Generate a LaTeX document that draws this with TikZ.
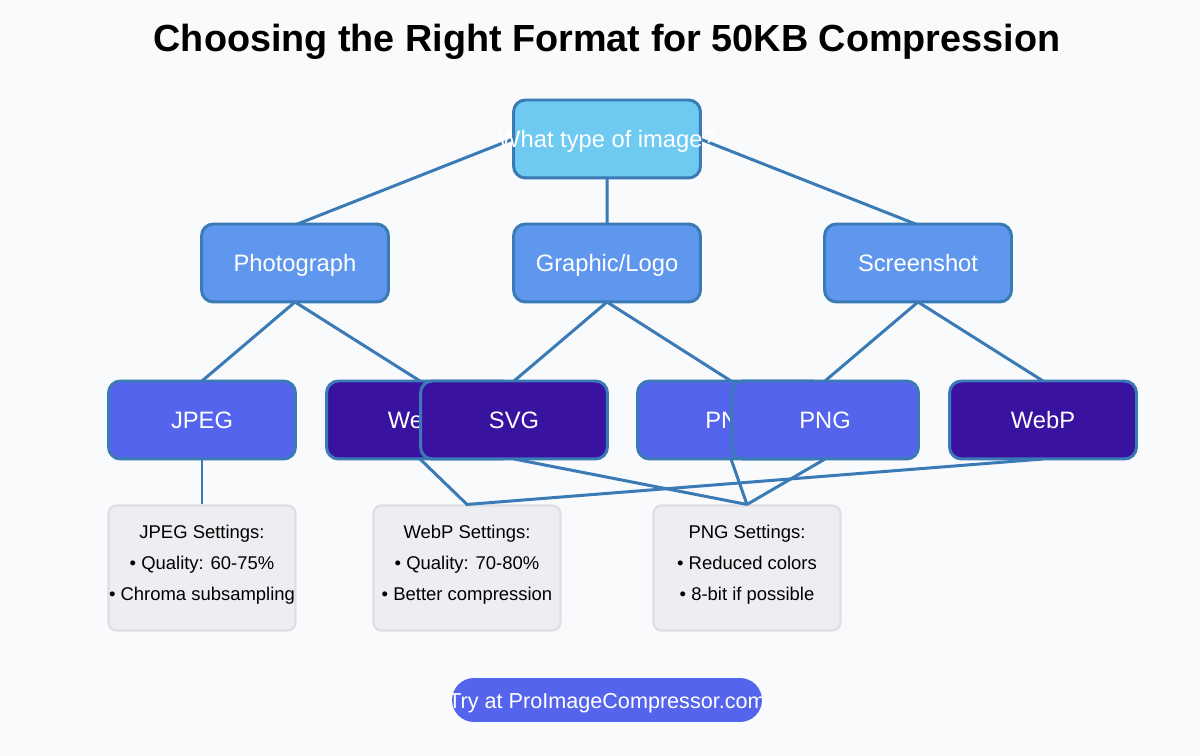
\documentclass[tikz,border=0pt]{standalone}
\usepackage{fontspec}
\setmainfont{Liberation Sans}
\definecolor{bg}{HTML}{F8FAFC}
\definecolor{edgeblue}{HTML}{3A7AB5}
\definecolor{rootfill}{HTML}{6FCAF2}
\definecolor{midfill}{HTML}{6097EE}
\definecolor{fmtblue}{HTML}{5464EC}
\definecolor{fmtpurple}{HTML}{3A12A0}
\definecolor{setfill}{HTML}{ECEEF1}
\definecolor{setdraw}{HTML}{DDDFE3}
\newcommand{\overflow}[1]{\makebox[0pt]{#1}}
\newcommand{\lastrow}{\rule[-5.5pt]{0pt}{0pt}}
\begin{document}
\begin{tikzpicture}[x=0.02cm, y=-0.02cm, line width=1.7pt,
    box/.style = {draw=edgeblue, rounded corners=0.24cm, minimum width=3.74cm, minimum height=1.56cm, inner sep=0pt, text height=2.2ex, text depth=0.35ex, text=white, font=\fontsize{13.5}{15}\selectfont},
    root/.style = {box, fill=rootfill},
    mid/.style = {box, fill=midfill},
    fmt/.style = {box, fill=fmtblue},
    fmtd/.style = {box, fill=fmtpurple},
    settings/.style = {draw=setdraw, fill=setfill, rounded corners=0.16cm, line width=1.2pt, minimum width=3.74cm, minimum height=2.5cm, inner sep=0pt, align=center, font=\fontsize{10.5}{17.6}\selectfont},
    link/.style = {draw=edgeblue, line width=1.7pt}]
	\fill[bg] (0,0) rectangle (1200,756);
	\node[font=\bfseries\fontsize{21.5}{24}\selectfont] (title) at (607,42) {Choosing the Right Format for 50KB Compression};
	% settings boxes
	\node[settings] (jset) at (202,568) {JPEG Settings:\\• Quality: 60-75\%\\\overflow{• Chroma subsampling}\lastrow};
	\node[settings] (wset) at (467,568) {WebP Settings:\\• Quality: 70-80\%\\• Better compression\lastrow};
	\node[settings] (pset) at (747,568) {PNG Settings:\\• Reduced colors\\• 8-bit if possible\lastrow};
	% lines first, boxes on top
	\coordinate (rl) at (513,139);
	\coordinate (rr) at (700,139);
	\coordinate (rb) at (607,178);
	\coordinate (p) at (295,225);
	\coordinate (g) at (607,225);
	\coordinate (s) at (918,225);
	\draw[link] (rl) -- (p) (rr) -- (s) (rb) -- (g);
	\draw[link] (295,302) -- (202,381) (295,302) -- (420,381);
	\draw[link] (607,302) -- (514,381) (607,302) -- (731,381);
	\draw[link] (918,302) -- (825,381) (918,302) -- (1043,381);
	\draw[link] (202,459) -- (jset.north);
	\draw[link] (420,459) -- (wset.north) -- (1043,459);
	\draw[link] (514,459) -- (pset.north) (731,459) -- (pset.north) (825,459) -- (pset.north);
	% boxes
	\node[root] (type) at (607,139) {\overflow{What type of image?}};
	\node[mid] (photo) at (295,263) {Photograph};
	\node[mid] (graphic) at (607,263) {Graphic/Logo};
	\node[mid] (shot) at (918,263) {Screenshot};
	\node[fmt] (jpeg) at (202,420) {JPEG};
	\node[fmtd] (webpa) at (420,420) {WebP};
	\node[fmtd] (svg) at (514,420) {SVG};
	\node[fmt] (pnga) at (731,420) {PNG};
	\node[fmt] (pngb) at (825,420) {PNG};
	\node[fmtd] (webpb) at (1043,420) {WebP};
	% call to action
	\node[fill=fmtblue, rounded corners=0.44cm, minimum width=6.2cm, minimum height=0.88cm, inner sep=0pt, text height=2.2ex, text depth=0.35ex, text=white, font=\fontsize{12.3}{14}\selectfont] (cta) at (607,700) {\overflow{Try at ProImageCompressor.com}};
\end{tikzpicture}
\end{document}
